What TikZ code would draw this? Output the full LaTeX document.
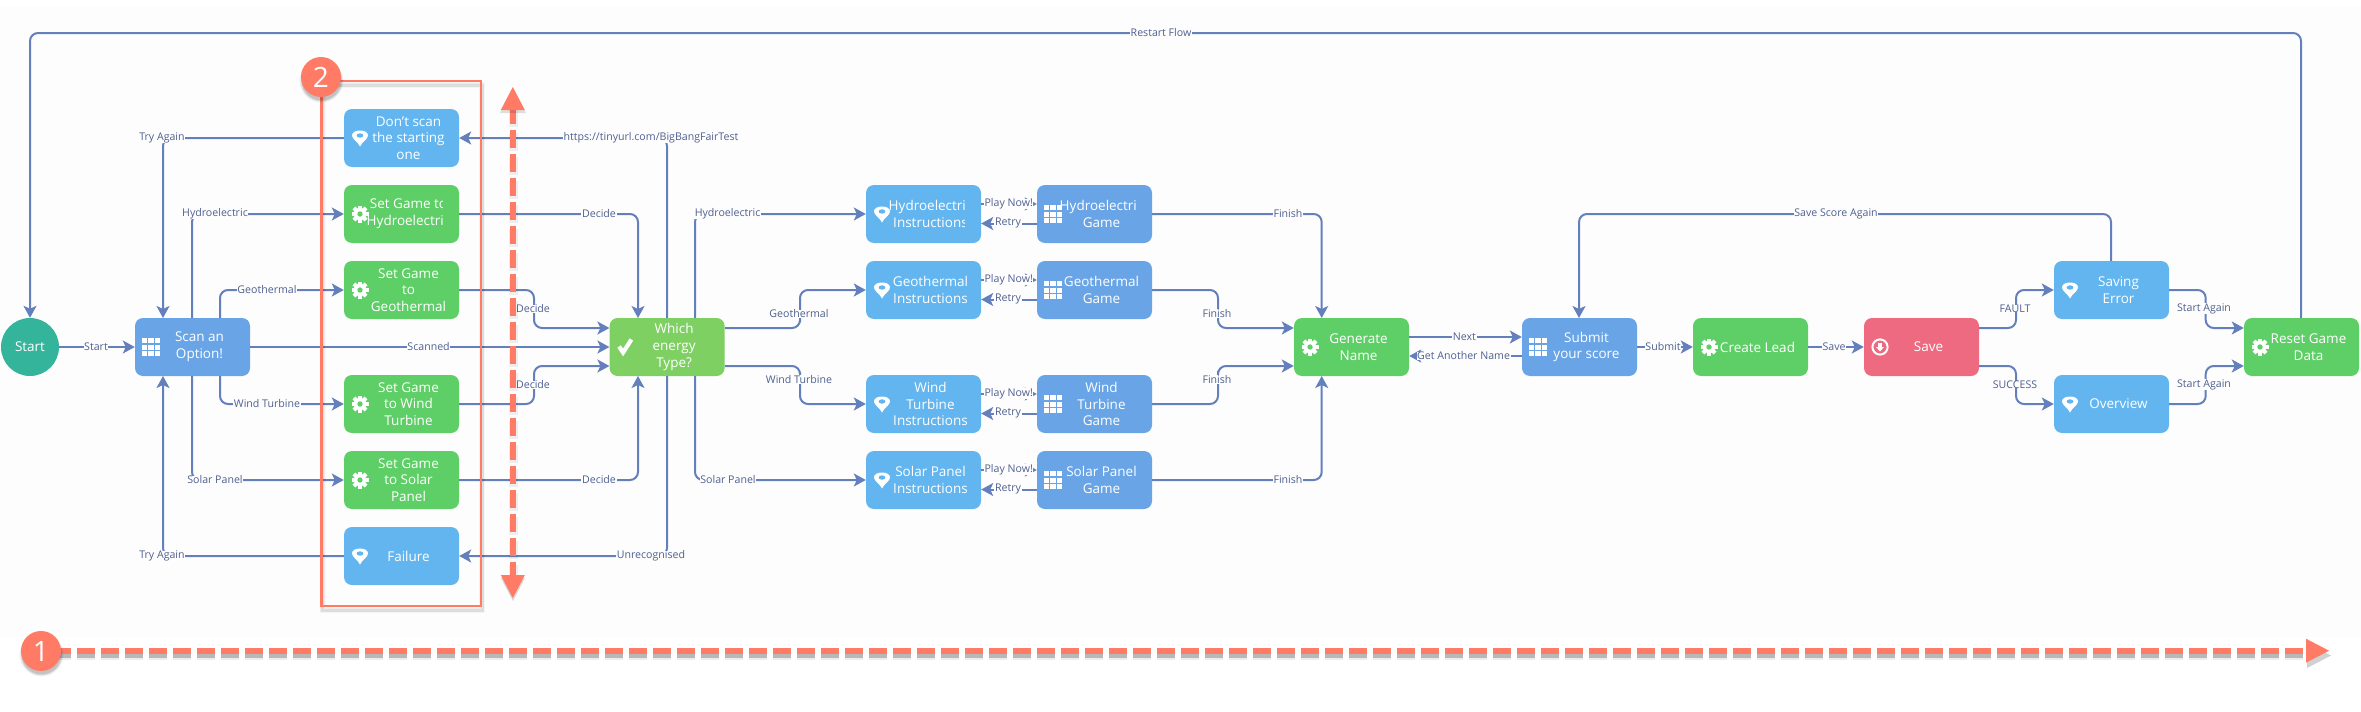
\documentclass[tikz,border=0pt]{standalone}
\usepackage{fontspec}
\setmainfont{Open Sans}
\usetikzlibrary{arrows.meta,calc,shapes.geometric}
\definecolor{bgc}{HTML}{FDFDFD}
\definecolor{flowc}{HTML}{6480BC}
\definecolor{labc}{HTML}{4F5F90}
\definecolor{infoc}{HTML}{62B5EE}
\definecolor{gamec}{HTML}{68A4E6}
\definecolor{setc}{HTML}{5ECE66}
\definecolor{askc}{HTML}{7ED062}
\definecolor{savec}{HTML}{EE6A80}
\definecolor{startc}{HTML}{34B59B}
\definecolor{salmon}{HTML}{FF7B66}
\tikzset{
  box/.style={rectangle,rounded corners=8pt,minimum width=115pt,minimum height=58pt,inner sep=0pt,draw=none},
  txt/.style={text=white,align=center,inner sep=0pt,font=\fontsize{13.5}{16.6}\selectfont},
  lab/.style={text=labc,fill=bgc,inner xsep=0.6pt,inner ysep=0pt,font=\fontsize{10.6}{12}\selectfont},
  flow/.style={draw=flowc,line width=2pt,rounded corners=8pt,-{Stealth[length=12pt,width=13pt,inset=3pt]}},
  redline/.style={draw=salmon,line width=6pt,dash pattern=on 18pt off 6pt},
  shade1/.style={draw=black,opacity=.22,line width=6pt,dash pattern=on 18pt off 6pt},
  shade2/.style={draw=black,opacity=.07,line width=9pt,dash pattern=on 18pt off 6pt},
  badge/.style={circle,fill=salmon,minimum size=40pt,inner sep=0pt,text=white,font=\fontsize{28}{30}\selectfont},
}
\newcommand{\pinicon}[3]{\begin{scope}[x=1pt,y=1pt,shift={(#1,#2)}]
  \fill[white] (0,-8.5) .. controls (-2,-4) and (-8,-1) .. (-8,2.5) .. controls (-8,6) and (-4,7.5) .. (0,7.5) .. controls (4,7.5) and (8,6) .. (8,2.5) .. controls (8,-1) and (2,-4) .. (0,-8.5) -- cycle;
  \fill[#3] (0,2.5) ellipse (3.4pt and 2.2pt);
\end{scope}}
\newcommand{\gearicon}[3]{\begin{scope}[x=1pt,y=1pt,shift={(#1,#2)}]
  \foreach \a in {0,45,...,315}{\fill[white,rotate=\a] (-2,4) rectangle (2,8.5);}
  \fill[white] (0,0) circle (6.2pt);
  \fill[#3] (0,0) circle (2.7pt);
\end{scope}}
\newcommand{\gridicon}[3]{\begin{scope}[x=1pt,y=1pt,shift={(#1,#2)}]
  \foreach \i in {-1,0,1}{\foreach \j in {-1,0,1}{\fill[white] ({\i*6.6-2.6},{\j*6.2-2.5}) rectangle ++(5.2,5);}}
\end{scope}}
\newcommand{\checkicon}[3]{\begin{scope}[x=1pt,y=1pt,shift={(#1,#2)}]
  \draw[white,line width=4.2pt] (-6.5,0.5) -- (-2.5,-5.5) -- (5.8,7.5);
\end{scope}}
\newcommand{\saveicon}[3]{\begin{scope}[x=1pt,y=1pt,shift={(#1,#2)}]
  \draw[white,line width=2pt] (0,0) circle (7.6pt);
  \fill[white] (-1.7,4) rectangle (1.7,0);
  \fill[white] (4,0) -- (0,-4.5) -- (-4,0) -- cycle;
\end{scope}}
% name, colour, icon, left, top, text
\newcommand{\stepnode}[6]{%
  \node[box,fill=#2] (#1) at ({#4+57.5},{#5+29}) {};
  #3{{#4+16}}{{-(#5+29)}}{#2}
  \node[txt] (#1t) at ({#4+64.5},{#5+29}) {#6};}
\newcommand{\clipnode}[6]{%
  \node[box,fill=#2] (#1) at ({#4+57.5},{#5+29}) {};
  #3{{#4+16}}{{-(#5+29)}}{#2}
  \begin{scope}
    \clip ({#4},{#5}) rectangle ({#4+98},{#5+58});
    \node[txt] (#1t) at ({#4+64.5},{#5+29}) {#6};
  \end{scope}}
\begin{document}
\begin{tikzpicture}[x=1pt,y=-1pt]
\useasboundingbox (0,0) rectangle (2361,712);
\fill[white] (0,0) rectangle (2361,712);
\fill[bgc] (0,6) rectangle (2361,637);
% nodes
\node[circle,fill=startc,minimum size=58pt,inner sep=0pt,text=white,font=\fontsize{13.5}{16.6}\selectfont] (start) at (30,347) {Start};
\stepnode{scan}{gamec}{\gridicon}{135}{318}{Scan an\\Option!}
\stepnode{dont}{infoc}{\pinicon}{344}{109}{Don't scan\\the starting\\one}
\clipnode{sethy}{setc}{\gearicon}{344}{185}{Set Game to\\Hydroelectric}
\stepnode{setge}{setc}{\gearicon}{344}{261}{Set Game\\to\\Geothermal}
\stepnode{setwi}{setc}{\gearicon}{344}{375}{Set Game\\to Wind\\Turbine}
\stepnode{setso}{setc}{\gearicon}{344}{451}{Set Game\\to Solar\\Panel}
\stepnode{fail}{infoc}{\pinicon}{344}{527}{Failure}
\stepnode{which}{askc}{\checkicon}{609.6}{318}{Which\\energy\\Type?}
\clipnode{inhy}{infoc}{\pinicon}{866}{185}{Hydroelectric\\Instructions}
\stepnode{inge}{infoc}{\pinicon}{866}{261}{Geothermal\\Instructions}
\stepnode{inwi}{infoc}{\pinicon}{866}{375}{Wind\\Turbine\\Instructions}
\stepnode{inso}{infoc}{\pinicon}{866}{451}{Solar Panel\\Instructions}
\clipnode{gahy}{gamec}{\gridicon}{1037}{185}{Hydroelectric\\Game}
\stepnode{gage}{gamec}{\gridicon}{1037}{261}{Geothermal\\Game}
\stepnode{gawi}{gamec}{\gridicon}{1037}{375}{Wind\\Turbine\\Game}
\stepnode{gaso}{gamec}{\gridicon}{1037}{451}{Solar Panel\\Game}
\stepnode{gen}{setc}{\gearicon}{1294}{318}{Generate\\Name}
\stepnode{sub}{gamec}{\gridicon}{1522}{318}{Submit\\your score}
\stepnode{lead}{setc}{\gearicon}{1693}{318}{Create Lead}
\stepnode{save}{savec}{\saveicon}{1864}{318}{Save}
\stepnode{err}{infoc}{\pinicon}{2054}{261}{Saving\\Error}
\stepnode{over}{infoc}{\pinicon}{2054}{375}{Overview}
\stepnode{reset}{setc}{\gearicon}{2244}{318}{Reset Game\\Data}
% connectors
\draw[flow] (2301,318) -- (2301,33) -- (30,33) -- (start.north);
\draw[flow] (start) -- (scan);
\draw[flow] (dont.west) -| (163,318);
\draw[flow] (fail.west) -| (163,376);
\draw[flow] (192,318) |- (sethy.west);
\draw[flow] (220,318) |- (setge.west);
\draw[flow] (220,376) |- (setwi.west);
\draw[flow] (192,376) |- (setso.west);
\draw[flow] (scan) -- (which);
\draw[flow] (sethy.east) -| (638,318);
\draw[flow] (setso.east) -| (638,376);
\draw[flow] (setge.east) -| (534,309) |- ([yshift=19pt]which.west);
\draw[flow] (setwi.east) -| (534,385) |- ([yshift=-19pt]which.west);
\draw[flow] (667,318) |- (dont.east);
\draw[flow] (667,376) |- (fail.east);
\draw[flow] (695,318) |- (inhy.west);
\draw[flow] (695,376) |- (inso.west);
\draw[flow] ([yshift=19pt]which.east) -| (800,314) |- (inge.west);
\draw[flow] ([yshift=-19pt]which.east) -| (800,380) |- (inwi.west);
\foreach \a/\b in {inhy/gahy,inge/gage,inwi/gawi,inso/gaso}{
  \draw[flow] ([yshift=10pt]\a.east) -- ([yshift=10pt]\b.west);
  \draw[flow] ([yshift=-9.5pt]\b.west) -- ([yshift=-9.5pt]\a.east);
}
\draw[flow] (gahy.east) -| (1321.7,318);
\draw[flow] (gaso.east) -| (1321.7,376);
\draw[flow] (gage.east) -| (1218,313) |- ([yshift=19pt]gen.west);
\draw[flow] (gawi.east) -| (1218,379) |- ([yshift=-19pt]gen.west);
\draw[flow] ([yshift=10pt]gen.east) -- ([yshift=10pt]sub.west);
\draw[flow] ([yshift=-9pt]sub.west) -- ([yshift=-9pt]gen.east);
\draw[flow] (sub) -- (lead);
\draw[flow] (lead) -- (save);
\draw[flow] ([yshift=19pt]save.east) -| (2016,308) |- (err.west);
\draw[flow] ([yshift=-19pt]save.east) -| (2016,384) |- (over.west);
\draw[flow] (err.east) -| (2205.7,308) |- ([yshift=19pt]reset.west);
\draw[flow] (over.east) -| (2205.7,384) |- ([yshift=-19pt]reset.west);
\draw[flow] (2111,261) |- (1579,214) -- (1579,318);
% connector labels
\node[lab] (l01) at (1161,33) {Restart Flow};
\node[lab] (l02) at (96,347) {Start};
\node[lab] (l03) at (162,138) {Try Again};
\node[lab] (l04) at (162,556) {Try Again};
\node[lab] (l05) at (215,214) {Hydroelectric};
\node[lab] (l06) at (267,290) {Geothermal};
\node[lab] (l07) at (267,404) {Wind Turbine};
\node[lab] (l08) at (215,480) {Solar Panel};
\node[lab] (l09) at (428.6,347) {Scanned};
\node[lab] (l10) at (599,214) {Decide};
\node[lab] (l11) at (599,480) {Decide};
\node[lab] (l12) at (533,309) {Decide};
\node[lab] (l13) at (533,385) {Decide};
\node[lab] (l14) at (651,138) {https://tinyurl.com/BigBangFairTest};
\node[lab] (l15) at (651,556) {Unrecognised};
\node[lab] (l16) at (727.6,214) {Hydroelectric};
\node[lab] (l17) at (728,480) {Solar Panel};
\node[lab] (l18) at (799,314) {Geothermal};
\node[lab] (l19) at (799,379.5) {Wind Turbine};
\foreach \y/\n in {204/a,280/b,393.7/c,469.7/d}{\node[lab] (pl\n) at (1008.7,\y) {Play Now!};}
\foreach \y/\n in {223/a,299/b,413/c,489/d}{\node[lab] (re\n) at (1008,\y) {Retry};}
\node[lab] (l20) at (1288,214) {Finish};
\node[lab] (l21) at (1288,480) {Finish};
\node[lab] (l22) at (1217,313.5) {Finish};
\node[lab] (l23) at (1217,379.5) {Finish};
\node[lab] (l24) at (1464.4,336.7) {Next};
\node[lab] (l25) at (1463.6,355.7) {Get Another Name};
\node[lab] (l26) at (1663,347) {Submit};
\node[lab] (l27) at (1834,347) {Save};
\node[lab] (l28) at (2015,308.5) {FAULT};
\node[lab] (l29) at (2015,384.5) {SUCCESS};
\node[lab] (l30) at (2204,308.5) {Start Again};
\node[lab] (l31) at (2204,384.5) {Start Again};
\node[lab] (l32) at (1836,214) {Save Score Again};
% highlight frame with soft shadow
\foreach \w/\op in {6/.03,4.5/.04,3/.06}{\draw[black,opacity=\op,line width=\w pt] (322.5,85) rectangle (482,610);}
\draw[salmon,line width=2.4pt] (321.5,81) rectangle (481,606);
% vertical double arrow
\coordinate (vt) at (512.8,87); \coordinate (vb) at (512.8,598);
\coordinate (vs) at (512.8,106); \coordinate (ve) at (512.8,575);
\draw[black,opacity=.06,line width=9pt,dash pattern=on 18pt off 6pt] ([xshift=1pt,yshift=-3pt]vs) -- ([xshift=1pt,yshift=-3pt]ve);
\draw[redline] (vs) -- (ve);
\fill[black,opacity=.12] (500,113) -- (512.8,91) -- (526,113) -- cycle;
\fill[black,opacity=.15] (500.8,578) -- (525,578) -- (513,601) -- cycle;
\fill[salmon] (vt) -- (524.8,110) -- (500.8,110) -- cycle;
\fill[salmon] (vb) -- (500.8,575) -- (524.8,575) -- cycle;
% horizontal arrow
\coordinate (hs) at (53,650.7); \coordinate (he) at (2306,650.7); \coordinate (hh) at (2329,650.7);
\draw[shade2] ([yshift=-4.5pt]hs) -- ([yshift=-4.5pt]he);
\draw[shade1] ([yshift=-4.5pt]hs) -- ([yshift=-4.5pt]he);
\draw[redline] (hs) -- (he);
\fill[black,opacity=.18] (2307,643) -- (2331,655.5) -- (2307,668) -- cycle;
\fill[salmon] (2306,638.7) -- (hh) -- (2306,662.7) -- cycle;
% badges
\foreach \r/\op in {22/.05,21/.08,20/.12}{\fill[black,opacity=\op] (321.5,80.5) circle (\r pt);\fill[black,opacity=\op] (41.5,654.5) circle (\r pt);}
\node[badge] (b2) at (321,77) {2};
\node[badge] (b1) at (41,651) {1};
\end{tikzpicture}
\end{document}
